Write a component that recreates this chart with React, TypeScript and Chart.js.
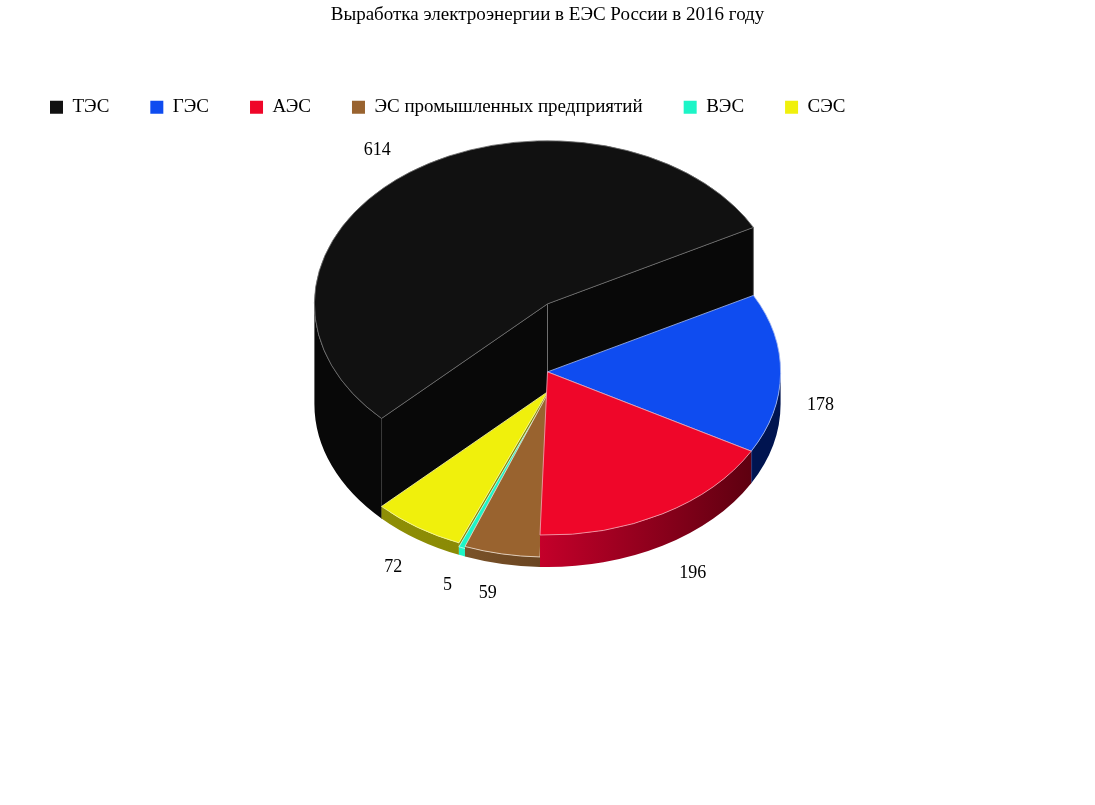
import { useEffect, useRef } from 'react';
import { Chart, registerables } from 'chart.js';

Chart.register(...registerables);

const categories = ['ТЭС', 'ГЭС', 'АЭС', 'ЭС промышленных предприятий', 'ВЭС', 'СЭС'];
const values = [614, 178, 196, 59, 5, 72];
// how tall each slice stands above the common base, px
const sliceHeights = [100, 32, 32, 10, 8, 12];
const topColors = ['#111111', '#0F4CF0', '#EF0629', '#99632F', '#1CF5C7', '#F0F00C'];
const edgeColors = ['#6e6e6e', '#9db4f0', '#f0a0ae', '#e8d8c8', '#c8fff0', '#f5f5a0'];
const wallLeft = ['#080808', '#001f70', '#c4002a', '#7a5228', '#1CF5C7', '#8f8f06'];
const wallRight = ['#080808', '#001450', '#5e0010', '#6a4522', '#1CF5C7', '#8a8a05'];
const drawOrder = [0, 5, 4, 3, 1, 2];
// hand nudges for the value labels, px
const labelNudgeX = [-7.5, -2, 9.5, -6, 1, -1];
const labelNudgeY = [2, -1, 2, 1, 2, 3];

const FONT = '"Liberation Serif", serif';
const SQUASH = 0.7;
const BASE_SHIFT = 43.5;
const LABEL_RADIUS = 1.18;

const pie3d = {
  id: 'pie3d',
  beforeDatasetDraw(chart: any) {
    const ctx = chart.ctx;
    const arcs = chart.getDatasetMeta(0).data;
    drawOrder.forEach((i) => {
      const el = arcs[i];
      const r = el.outerRadius;
      const cx = el.x;
      const base = el.y + BASE_SHIFT;
      const top = base - sliceHeights[i];
      const a0 = el.startAngle;
      const a1 = el.endAngle;
      const grad = ctx.createLinearGradient(cx + Math.cos(a1) * r, 0, cx + Math.cos(a0) * r, 0);
      grad.addColorStop(0, wallLeft[i]);
      grad.addColorStop(1, wallRight[i]);
      ctx.save();
      ctx.fillStyle = grad;

      // radial walls, only the ones that face the viewer
      const radial = (a: number) => {
        const px = cx + Math.cos(a) * r;
        const py = Math.sin(a) * r * SQUASH;
        ctx.beginPath();
        ctx.moveTo(cx, top);
        ctx.lineTo(px, top + py);
        ctx.lineTo(px, base + py);
        ctx.lineTo(cx, base);
        ctx.closePath();
        ctx.fill();
        ctx.strokeStyle = edgeColors[i];
        ctx.lineWidth = 1;
        ctx.beginPath();
        ctx.moveTo(cx, top);
        ctx.lineTo(cx, base);
        ctx.moveTo(px, top + py);
        ctx.lineTo(px, base + py);
        if (i === 0) ctx.stroke();
      };
      if (Math.cos(a0) < 0) radial(a0);
      if (Math.cos(a1) > 0) radial(a1);

      // rim, lower half of the ellipse only
      for (let k = -1; k <= 1; k++) {
        const from = Math.max(a0, k * 2 * Math.PI);
        const to = Math.min(a1, k * 2 * Math.PI + Math.PI);
        if (to <= from) continue;
        ctx.beginPath();
        ctx.ellipse(cx, top, r, r * SQUASH, 0, from, to);
        ctx.ellipse(cx, base, r, r * SQUASH, 0, to, from, true);
        ctx.closePath();
        ctx.fill();
      }
      ctx.restore();

      // top face is the library's own arc, squashed and lifted
      ctx.save();
      ctx.translate(cx, top);
      ctx.scale(1, SQUASH);
      ctx.translate(-cx, -el.y);
      el.draw(ctx);
      ctx.restore();
    });

    // value labels
    ctx.save();
    ctx.fillStyle = '#000';
    ctx.font = `18px ${FONT}`;
    ctx.textAlign = 'center';
    ctx.textBaseline = 'middle';
    arcs.forEach((el: any, i: number) => {
      const mid = (el.startAngle + el.endAngle) / 2;
      const r = el.outerRadius * LABEL_RADIUS;
      const base = el.y + BASE_SHIFT;
      const anchor = Math.sin(mid) < 0 ? base - sliceHeights[i] : base;
      ctx.fillText(
        String(values[i]),
        el.x + Math.cos(mid) * r + labelNudgeX[i],
        anchor + Math.sin(mid) * r * SQUASH + labelNudgeY[i],
      );
    });
    ctx.restore();
    return false;
  },
};

export default function App() {
  const chartRef = useRef<HTMLCanvasElement>(null);

  useEffect(() => {
    if (!chartRef.current) return;
    const chart = new Chart(chartRef.current, {
      type: 'pie',
      data: {
        labels: categories,
        datasets: [{
          data: values,
          backgroundColor: topColors,
          borderColor: edgeColors,
          borderWidth: 1,
        }],
      },
      options: {
        responsive: false,
        animation: false,
        rotation: -134.6,
        layout: { padding: { left: 9, right: 9, bottom: 211 } },
        plugins: {
          tooltip: { enabled: false },
          title: {
            display: true,
            text: 'Выработка электроэнергии в ЕЭС России в 2016 году',
            color: '#000',
            font: { family: FONT, size: 19, weight: 'normal' },
            padding: { top: 4, bottom: 30 },
          },
          legend: {
            position: 'top',
            align: 'start',
            labels: {
              color: '#000',
              boxWidth: 13,
              boxHeight: 13,
              padding: 41,
              font: { family: FONT, size: 19 },
              generateLabels: (c: any) =>
                (Chart as any).overrides.pie.plugins.legend.labels.generateLabels(c).map((l: any) => ({ ...l, lineWidth: 0 })),
            },
          },
        },
      } as any,
      plugins: [pie3d as any],
    });
    return () => { chart.destroy(); };
  }, []);

  return (
    <div style={{ position: 'absolute', left: 0, top: 0, width: 1095, height: 805, background: '#fff' }}>
      <canvas ref={chartRef} width={1095} height={805} style={{ display: 'block' }} />
    </div>
  );
}
